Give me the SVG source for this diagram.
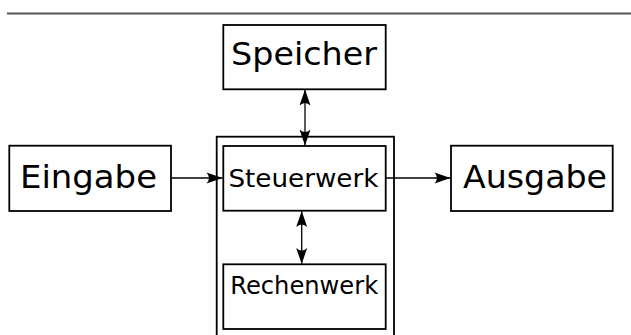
<svg xmlns="http://www.w3.org/2000/svg" width="631" height="335" viewBox="0 0 631 335">
  <style>
    .box { fill: #fff; stroke: #000; stroke-width: 1.8; }
    .frame { fill: none; stroke: #000; stroke-width: 1.8; }
    .lbl { font-family: "DejaVu Sans", sans-serif; fill: #000; text-anchor: middle; }
    .big { font-size: 32px; }
    .small { font-size: 25.5px; }
    .edge { fill: none; stroke: #000; stroke-width: 1.3; }
  </style>
  <defs>
    <marker id="head" markerUnits="userSpaceOnUse" markerWidth="20" markerHeight="14"
            viewBox="-18 -7 20 14" refX="0" refY="0" orient="auto-start-reverse" overflow="visible">
      <path d="M0,0 L-16,-5.5 Q-11,0 -16,5.5 Z" fill="#000"/>
    </marker>
  </defs>

  <rect width="631" height="335" fill="#fff"/>

  <!-- header rule -->
  <line x1="7" y1="13.5" x2="631" y2="13.5" stroke="#555" stroke-width="2"/>

  <!-- processor frame -->
  <g id="cpu">
    <rect class="frame" x="216.7" y="136.7" width="177.3" height="210"/>
  </g>

  <g id="speicher">
    <rect class="box" x="223.3" y="25" width="162.4" height="64.3"/>
    <text class="lbl big" x="304" y="65" textLength="146" lengthAdjust="spacingAndGlyphs">Speicher</text>
  </g>

  <g id="eingabe">
    <rect class="box" x="9.3" y="145.7" width="161.7" height="65.3"/>
    <text class="lbl big" x="88.5" y="187.5" textLength="137" lengthAdjust="spacingAndGlyphs">Eingabe</text>
  </g>

  <g id="steuerwerk">
    <rect class="box" x="223.3" y="146" width="162.4" height="64.7"/>
    <text class="lbl small" x="303.4" y="187" textLength="150" lengthAdjust="spacingAndGlyphs">Steuerwerk</text>
  </g>

  <g id="ausgabe">
    <rect class="box" x="451" y="145.7" width="161.7" height="65.3"/>
    <text class="lbl big" x="535" y="187.5" textLength="144" lengthAdjust="spacingAndGlyphs">Ausgabe</text>
  </g>

  <g id="rechenwerk">
    <rect class="box" x="223.3" y="264.3" width="162.4" height="64.7"/>
    <text class="lbl small" x="304.2" y="293.5" textLength="148" lengthAdjust="spacingAndGlyphs">Rechenwerk</text>
  </g>

  <g id="connectors">
    <line class="edge" x1="171" y1="178" x2="222.5" y2="178" marker-end="url(#head)"/>
    <line class="edge" x1="386" y1="178" x2="450.5" y2="178" marker-end="url(#head)"/>
    <line class="edge" x1="305" y1="89.5" x2="305" y2="145.5" marker-start="url(#head)" marker-end="url(#head)"/>
    <line class="edge" x1="301.7" y1="211" x2="301.7" y2="264" marker-start="url(#head)" marker-end="url(#head)"/>
  </g>
</svg>
